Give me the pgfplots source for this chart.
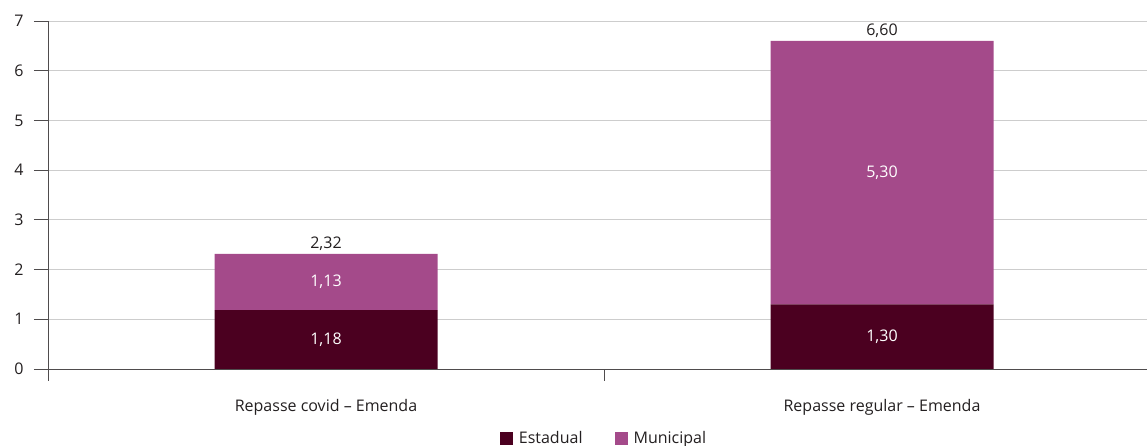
\documentclass[border=0pt]{standalone}
\usepackage{fontspec}
\setmainfont{Open Sans}
\usepackage{pgfplots}
\usepackage{pgfplotstable}
\pgfplotsset{compat=1.18}

\definecolor{estadual}{HTML}{4B0020}
\definecolor{municipal}{HTML}{A44A8A}
\definecolor{gridgray}{HTML}{CDCDCD}
\definecolor{txt}{HTML}{231F20}

\newcommand{\lblfont}{\fontsize{16pt}{18pt}\selectfont}

% Repasses por esfera (R$ bilhoes)
\pgfplotstableread{
x est mun
0 1.184 1.134
1 1.30 5.30
}\repasses

\pgfplotsset{
  frame/.style={
    at={(48pt,77pt)}, anchor=south west,
    scale only axis, width=1112pt, height=348pt,
    xmin=-0.5, xmax=1.5, ymin=0, ymax=7,
  },
  valuelabel/.style={
    draw=none, mark=none, point meta=explicit,
    nodes near coords={\pgfmathprintnumber[assume math mode=true,
      use comma, fixed, fixed zerofill, precision=2]{\pgfplotspointmeta}},
    every node near coord/.append style={font=\lblfont, #1},
  },
}

\begin{document}
\begin{tikzpicture}
\begin{axis}[
  frame,
  ybar stacked, bar width=223pt,
  axis lines*=left,
  axis line style={draw=txt!80, line width=0.9pt},
  ytick={0,...,7},
  ymajorgrids, grid style={gridgray, line width=0.8pt},
  xtick={0,1},
  xticklabels={Repasse covid -- Emenda, Repasse regular -- Emenda},
  minor xtick={-0.5,0.5,1.5},
  tick align=outside,
  major tick length=14pt, minor tick length=12pt,
  major x tick style={draw=none},
  tick style={draw=txt!80, line width=0.9pt},
  ticklabel style={font=\lblfont, text=txt},
  yticklabel style={xshift=-7pt},
  xticklabel style={yshift=-13pt},
  /pgf/number format/assume math mode=true,
  legend style={at={(0.5,-0.2)}, anchor=center, draw=none, fill=none,
    legend columns=2, font=\lblfont, text=txt,
    /tikz/every odd column/.append style={column sep=4pt},
    /tikz/every even column/.append style={column sep=30pt}},
  legend image code/.code={\fill[#1] (0pt,-6.5pt) rectangle (13pt,6.5pt);},
]
\addplot[fill=estadual, draw=none] table[x=x, y=est] {\repasses};
\addlegendentry{Estadual}
\addplot[fill=municipal, draw=none] table[x=x, y=mun] {\repasses};
\addlegendentry{Municipal}
\end{axis}

% value labels: segment values in the middle of each segment, totals on top
\begin{axis}[frame, hide axis]
\addplot[valuelabel={anchor=center, text=white}]
  table[x=x, y expr=\thisrow{est}/2, meta=est] {\repasses};
\addplot[valuelabel={anchor=center, text=white}]
  table[x=x, y expr=\thisrow{est}+\thisrow{mun}/2, meta=mun] {\repasses};
\addplot[valuelabel={anchor=south, text=txt}]
  table[x=x, y expr=\thisrow{est}+\thisrow{mun},
        meta expr=\thisrow{est}+\thisrow{mun}] {\repasses};
\end{axis}

\pgfresetboundingbox
\path[use as bounding box] (0,0) rectangle (1147pt,446pt);
\end{tikzpicture}
\end{document}
